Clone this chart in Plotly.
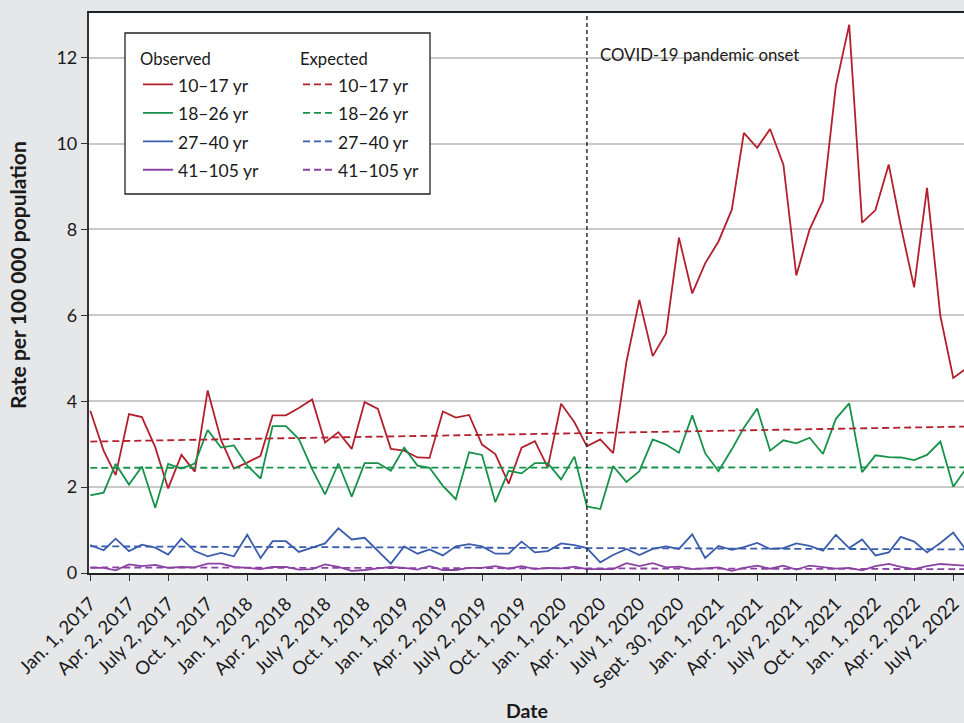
import pandas as pd
import plotly.graph_objects as go

# ---------------- data ----------------
months = pd.date_range("2017-01-01", "2022-08-01", freq="MS")

age_groups = ["10–17 yr", "18–26 yr", "27–40 yr", "41–105 yr"]

obs_10_17 = [3.78, 2.85, 2.28, 3.70, 3.63, 2.93, 1.97, 2.75, 2.36, 4.25, 3.10, 2.43,
             2.57, 2.73, 3.67, 3.67, 3.84, 4.04, 3.04, 3.28, 2.89, 3.98, 3.82, 2.89,
             2.85, 2.69, 2.68, 3.76, 3.62, 3.68, 2.99, 2.77, 2.08, 2.92, 3.07, 2.46,
             3.94, 3.51, 2.95, 3.11, 2.79, 4.92, 6.36, 5.05, 5.58, 7.81, 6.51, 7.21,
             7.72, 8.46, 10.25, 9.90, 10.34, 9.51, 6.93, 8.00, 8.67, 11.34, 12.77, 8.16,
             8.45, 9.51, 8.08, 6.65, 8.97, 5.99, 4.54, 4.77]
obs_18_26 = [1.81, 1.87, 2.54, 2.06, 2.48, 1.52, 2.54, 2.43, 2.55, 3.33, 2.92, 2.97,
             2.50, 2.20, 3.42, 3.42, 3.12, 2.42, 1.83, 2.55, 1.78, 2.56, 2.56, 2.38,
             2.92, 2.50, 2.45, 2.03, 1.72, 2.81, 2.75, 1.65, 2.38, 2.32, 2.56, 2.56,
             2.18, 2.71, 1.55, 1.49, 2.49, 2.12, 2.37, 3.11, 2.99, 2.80, 3.67, 2.79,
             2.37, 2.88, 3.38, 3.83, 2.85, 3.09, 3.02, 3.15, 2.77, 3.59, 3.95, 2.35,
             2.74, 2.70, 2.69, 2.63, 2.75, 3.06, 2.01, 2.45]
obs_27_40 = [0.65, 0.53, 0.80, 0.51, 0.66, 0.59, 0.43, 0.80, 0.51, 0.39, 0.47, 0.39,
             0.89, 0.35, 0.74, 0.74, 0.49, 0.60, 0.69, 1.04, 0.78, 0.82, 0.51, 0.22,
             0.62, 0.45, 0.55, 0.41, 0.62, 0.67, 0.62, 0.45, 0.45, 0.73, 0.48, 0.51,
             0.69, 0.65, 0.58, 0.25, 0.42, 0.56, 0.42, 0.56, 0.62, 0.56, 0.90, 0.35,
             0.63, 0.54, 0.60, 0.70, 0.56, 0.58, 0.69, 0.63, 0.52, 0.89, 0.58, 0.78,
             0.41, 0.48, 0.84, 0.73, 0.48, 0.70, 0.94, 0.52]
obs_41_105 = [0.12, 0.12, 0.06, 0.20, 0.16, 0.19, 0.12, 0.14, 0.13, 0.22, 0.22, 0.14,
              0.12, 0.09, 0.14, 0.14, 0.08, 0.09, 0.20, 0.14, 0.05, 0.07, 0.11, 0.14,
              0.12, 0.08, 0.16, 0.07, 0.07, 0.12, 0.12, 0.16, 0.10, 0.16, 0.09, 0.12,
              0.11, 0.15, 0.09, 0.09, 0.09, 0.23, 0.16, 0.23, 0.13, 0.15, 0.09, 0.11,
              0.13, 0.05, 0.12, 0.17, 0.10, 0.17, 0.08, 0.17, 0.14, 0.10, 0.12, 0.06,
              0.16, 0.21, 0.14, 0.09, 0.16, 0.21, 0.19, 0.17]

expected_dates = ["2017-01-01", "2022-08-01"]
exp_10_17 = [3.06, 3.41]
exp_18_26 = [2.45, 2.46]
exp_27_40 = [0.62, 0.55]
exp_41_105 = [0.13, 0.09]

pandemic_onset = "2020-03-01"
pandemic_label = "COVID-19 pandemic onset"

tick_dates = ["2017-01-01", "2017-04-02", "2017-07-02", "2017-10-01",
              "2018-01-01", "2018-04-02", "2018-07-02", "2018-10-01",
              "2019-01-01", "2019-04-02", "2019-07-02", "2019-10-01",
              "2020-01-01", "2020-04-01", "2020-07-01", "2020-09-30",
              "2021-01-01", "2021-04-02", "2021-07-02", "2021-10-01",
              "2022-01-01", "2022-04-02", "2022-07-02"]
tick_labels = ["Jan. 1, 2017", "Apr. 2, 2017", "July 2, 2017", "Oct. 1, 2017",
               "Jan. 1, 2018", "Apr. 2, 2018", "July 2, 2018", "Oct. 1, 2018",
               "Jan. 1, 2019", "Apr. 2, 2019", "July 2, 2019", "Oct. 1, 2019",
               "Jan. 1, 2020", "Apr. 1, 2020", "July 1, 2020", "Sept. 30, 2020",
               "Jan. 1, 2021", "Apr. 2, 2021", "July 2, 2021", "Oct. 1, 2021",
               "Jan. 1, 2022", "Apr. 2, 2022", "July 2, 2022"]

x_title = "Date"
y_title = "Rate per 100 000 population"

# ---------------- styling ----------------
colors = ["#B3202D", "#17924A", "#3B5DAD", "#8A43A3"]
FONT = "Lato"
BG = "#E6E7E9"
TXT = "#1a1a1a"

observed = [obs_10_17, obs_18_26, obs_27_40, obs_41_105]
expected = [exp_10_17, exp_18_26, exp_27_40, exp_41_105]

def lab(t):
    return '<span style="font-size:17.5px">' + t + '</span>'

fig = go.Figure()
for name, ys, c in zip(age_groups, observed, colors):
    fig.add_trace(go.Scatter(x=months, y=ys, mode="lines", name=lab(name),
                             line=dict(color=c, width=1.8), legend="legend"))
for name, ys, c in zip(age_groups, expected, colors):
    fig.add_trace(go.Scatter(x=expected_dates, y=ys, mode="lines", name=lab(name),
                             line=dict(color=c, width=1.8, dash="7px,4px"),
                             legend="legend2"))

fig.add_shape(type="line", xref="x", yref="paper", x0=pandemic_onset, x1=pandemic_onset,
              y0=0, y1=1, line=dict(color="#222222", width=1.4, dash="4px,3px"))
fig.add_annotation(x=pandemic_onset, xref="x", y=0.948, yref="paper", text=pandemic_label,
                   showarrow=False, xanchor="left", xshift=11,
                   font=dict(family=FONT, size=16.8, color=TXT))

# axis titles
fig.add_annotation(x=(17 - 89) / 875, y=(573 - 275) / 560, xref="paper", yref="paper",
                   text="<b>" + y_title + "</b>", textangle=-90, showarrow=False,
                   xanchor="center", yanchor="middle",
                   font=dict(family=FONT, size=21, color=TXT))
fig.add_annotation(x=(527 - 89) / 875, y=(573 - 710) / 560, xref="paper", yref="paper",
                   text="<b>" + x_title + "</b>", showarrow=False,
                   xanchor="center", yanchor="middle",
                   font=dict(family=FONT, size=19.5, color=TXT))

# legend frame
fig.add_shape(type="rect", xref="paper", yref="paper",
              x0=(125 - 89) / 875, x1=(430 - 89) / 875,
              y0=(573 - 194) / 560, y1=(573 - 33) / 560,
              line=dict(color="#222222", width=1.3), fillcolor="white", layer="above")

legend_common = dict(bgcolor="rgba(0,0,0,0)", borderwidth=0,
                     font=dict(family=FONT, size=19.6, color=TXT),
                     xref="container", yref="container",
                     xanchor="left", yanchor="top", traceorder="normal")
fig.update_layout(
    legend=dict(x=138 / 964, y=1 - 43.5 / 723,
                title=dict(text="Observed", font=dict(family=FONT, size=16.6, color=TXT)),
                **legend_common),
    legend2=dict(x=298 / 964, y=1 - 43.5 / 723,
                 title=dict(text="Expected", font=dict(family=FONT, size=16.6, color=TXT)),
                 **legend_common),
)

fig.update_layout(
    width=964, height=723,
    paper_bgcolor=BG, plot_bgcolor="white",
    margin=dict(l=89, r=0, t=13, b=150, autoexpand=False),
    font=dict(family=FONT, size=17, color=TXT),
    xaxis=dict(
        range=["2016-12-29", "2022-07-26"],
        tickmode="array", tickvals=tick_dates, ticktext=tick_labels,
        tickangle=-45, ticks="outside", ticklen=6, tickwidth=1.4, tickcolor="#333333",
        ticklabelstandoff=5,
        showgrid=False, zeroline=False,
        showline=True, linecolor="#222222", linewidth=1.5, mirror=True,
        tickfont=dict(family=FONT, size=18.5, color=TXT),
    ),
    yaxis=dict(
        range=[0, 13.04], tickvals=[0, 2, 4, 6, 8, 10, 12],
        ticks="outside", ticklen=6, tickwidth=1.4, tickcolor="#333333",
        showgrid=True, gridcolor="#C9C9C9", gridwidth=1.5, zeroline=False,
        showline=True, linecolor="#333333", linewidth=2.2,
        tickfont=dict(family=FONT, size=18, color=TXT),
    ),
)

fig.write_html("out.html", config={"displayModeBar": False},
               post_script="document.body.style.margin='0';document.body.style.padding='0';")
